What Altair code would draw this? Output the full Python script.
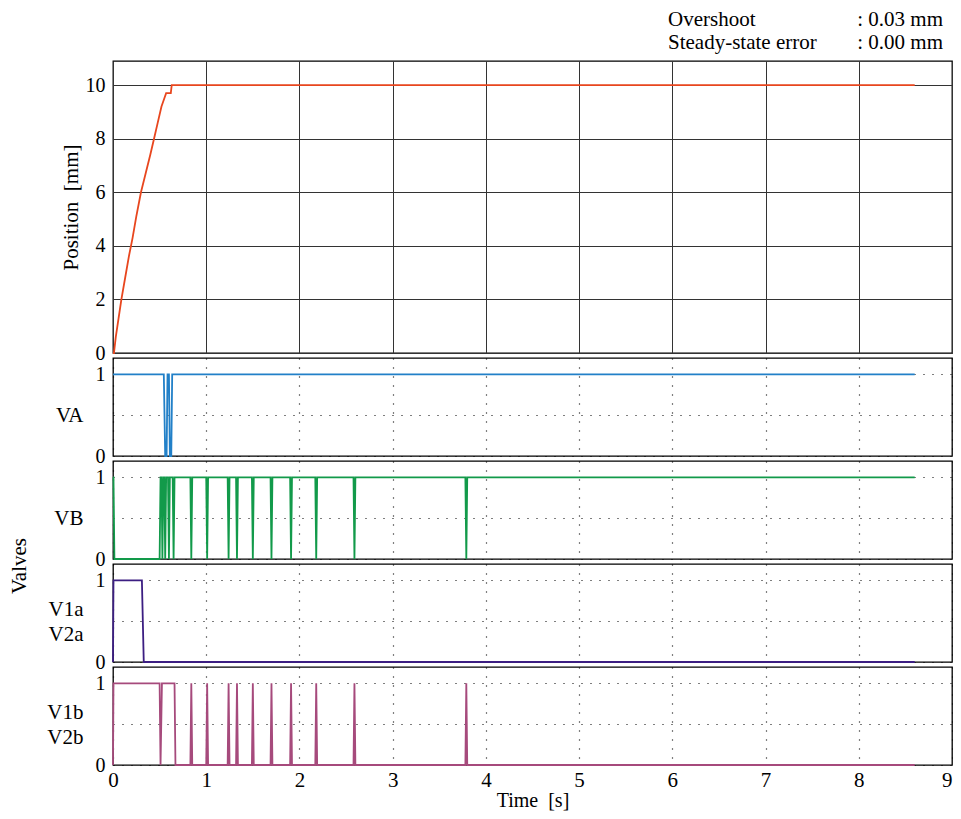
import altair as alt
import pandas as pd

# ---------------- data ----------------
time_ticks = [0, 1, 2, 3, 4, 5, 6, 7, 8, 9]
pos_ticks = [0, 2, 4, 6, 8, 10]
valve_ticks = [0, 0.5, 1]

pos_t = [0.00, 0.01, 0.03, 0.06, 0.09, 0.13, 0.17, 0.21, 0.25, 0.30, 0.35,
         0.40, 0.44, 0.48, 0.52, 0.55, 0.57, 0.62, 0.63, 0.65, 8.60]
pos_v = [0.0, 0.0, 0.6, 1.3, 2.0, 2.8, 3.6, 4.3, 5.1, 6.0, 6.7,
         7.4, 8.0, 8.6, 9.2, 9.5, 9.7, 9.7, 10.0, 10.0, 10.0]

va_t = [0.00, 0.545, 0.56, 0.575, 0.585, 0.60, 0.61, 0.625, 0.635, 8.60]
va_v = [1, 1, 0, 0, 1, 1, 0, 0, 1, 1]

vb_t = [0.00, 0.005, 0.015, 0.50, 0.51, 0.52, 0.53, 0.54, 0.55, 0.56, 0.57,
        0.59, 0.60, 0.61, 0.64, 0.65, 0.66,
        0.83, 0.84, 0.85, 1.00, 1.01, 1.02, 1.23, 1.24, 1.25, 1.32, 1.33, 1.34,
        1.49, 1.50, 1.51, 1.69, 1.70, 1.71, 1.90, 1.91, 1.92, 2.17, 2.18, 2.19,
        2.58, 2.59, 2.60, 3.78, 3.79, 3.80, 8.60]
vb_v = [1, 1, 0, 0, 1, 1, 0, 1, 1, 0, 1,
        1, 0, 1, 1, 0, 1,
        1, 0, 1, 1, 0, 1, 1, 0, 1, 1, 0, 1,
        1, 0, 1, 1, 0, 1, 1, 0, 1, 1, 0, 1,
        1, 0, 1, 1, 0, 1, 1]

v1a_t = [0.00, 0.005, 0.31, 0.33, 8.60]
v1a_v = [0, 1, 1, 0, 0]

v1b_t = [0.00, 0.005, 0.50, 0.51, 0.525, 0.66, 0.67,
         0.83, 0.84, 0.85, 1.00, 1.01, 1.02, 1.23, 1.24, 1.25, 1.32, 1.33, 1.34,
         1.49, 1.50, 1.51, 1.69, 1.70, 1.71, 1.90, 1.91, 1.92, 2.17, 2.18, 2.19,
         2.58, 2.59, 2.60, 3.78, 3.79, 3.80, 8.60]
v1b_v = [0, 1, 1, 0, 1, 1, 0,
         0, 1, 0, 0, 1, 0, 0, 1, 0, 0, 1, 0,
         0, 1, 0, 0, 1, 0, 0, 1, 0, 0, 1, 0,
         0, 1, 0, 0, 1, 0, 0]

ann_names = ["Overshoot", "Steady-state error"]
ann_values = [": 0.03 mm", ": 0.00 mm"]

colors = {"pos": "#E8461E", "va": "#2280C8", "vb": "#129A4A",
          "v1a": "#3C1E82", "v1b": "#A64A7C"}

FONT = "Liberation Serif"
FS = 21
FS_TICK = 20
W = 839
H_TOP = 292
H_V = 98

x_scale = alt.Scale(domain=[0, 9], nice=False)

# ---------------- top panel ----------------
pos_df = pd.DataFrame({"t": pos_t, "v": pos_v})
pos_line = alt.Chart(pos_df).mark_line(color=colors["pos"], strokeWidth=1.8).encode(
    x=alt.X("t:Q", scale=x_scale,
            axis=alt.Axis(values=time_ticks, labels=False, title=None, ticks=False,
                          domain=False, grid=True, gridColor="#333333", gridWidth=1)),
    y=alt.Y("v:Q", scale=alt.Scale(domain=[0, 10.9], nice=False),
            axis=alt.Axis(values=pos_ticks, ticks=False, domain=False, grid=True,
                          gridColor="#333333", gridWidth=1, title="Position\u2002[mm]",
                          labelFontSize=FS_TICK, titleFontSize=FS, labelPadding=8,
                          titleFontWeight="normal", titleX=-42, titleBaseline="middle")),
)

ann_layers = []
for i, (nm, val) in enumerate(zip(ann_names, ann_values)):
    dfa = pd.DataFrame({"name": [nm], "val": [val]})
    yv = -41 + 23 * i
    ann_layers.append(alt.Chart(dfa).mark_text(align="left", baseline="middle",
                                               fontSize=FS, font=FONT, color="black").encode(
        x=alt.value(555), y=alt.value(yv), text="name:N"))
    ann_layers.append(alt.Chart(dfa).mark_text(align="right", baseline="middle",
                                               fontSize=FS, font=FONT, color="black").encode(
        x=alt.value(830), y=alt.value(yv), text="val:N"))

top = alt.layer(pos_line, *ann_layers).properties(width=W, height=H_TOP)


# ---------------- valve panels ----------------
def valve_panel(t, v, color, title, last=False, extra=None):
    df = pd.DataFrame({"t": t, "v": v})
    if last:
        xaxis = alt.Axis(values=time_ticks, ticks=False, domain=False, grid=True,
                         gridColor="black", gridDash=[1, 8], gridWidth=1.2,
                         title="Time\u2002[s]", labelFontSize=FS, titleFontSize=20,
                         titleFontWeight="normal", labelPadding=4, titlePadding=0,
                         labelFlush=False,
                         labelAlign={"condition": {"test": "datum.value == 9", "value": "right"},
                                     "value": "center"})
    else:
        xaxis = alt.Axis(values=time_ticks, labels=False, title=None, ticks=False,
                         domain=False, grid=True, gridColor="black",
                         gridDash=[1, 8], gridWidth=1.2)
    ty = 57 if isinstance(title, str) else 45
    line = alt.Chart(df).mark_line(color=color, strokeWidth=1.8).encode(
        x=alt.X("t:Q", scale=x_scale, axis=xaxis),
        y=alt.Y("v:Q", scale=alt.Scale(domain=[0, 1.2], nice=False),
                axis=alt.Axis(values=valve_ticks, ticks=False, domain=False, grid=True,
                              gridColor="black", gridDash=[1, 8], gridWidth=1.2,
                              labelExpr="datum.value == 0.5 ? '' : format(datum.value, 'd')",
                              labelFontSize=FS_TICK, labelPadding=8,
                              title=title, titleAngle=0, titleAlign="right",
                              titleBaseline="middle", titleX=-30, titleY=ty,
                              titleFontSize=FS, titleFontWeight="normal",
                              titleLineHeight=25)),
    )
    layers = [line]
    if extra is not None:
        layers.append(extra)
    return alt.layer(*layers).properties(width=W, height=H_V)


valves_label = alt.Chart(pd.DataFrame({"lab": ["Valves"]})).mark_text(
    angle=270, align="center", baseline="middle", fontSize=FS, font=FONT, color="black"
).encode(x=alt.value(-93), y=alt.value(2), text="lab:N")

p_va = valve_panel(va_t, va_v, colors["va"], "VA")
p_vb = valve_panel(vb_t, vb_v, colors["vb"], "VB")
p_v1a = valve_panel(v1a_t, v1a_v, colors["v1a"], ["V1a", "V2a"], extra=valves_label)
p_v1b = valve_panel(v1b_t, v1b_v, colors["v1b"], ["V1b", "V2b"], last=True)

chart = alt.vconcat(top, p_va, p_vb, p_v1a, p_v1b, spacing=5, bounds="flush").properties(
    padding={"left": 0, "top": 0, "right": 0, "bottom": 0}
).configure(font=FONT).configure_view(stroke="black", strokeWidth=1.3).configure_axis(
    labelFont=FONT, titleFont=FONT, labelColor="black", titleColor="black")

chart.save("out.html", embed_options={"renderer": "svg", "actions": False})
